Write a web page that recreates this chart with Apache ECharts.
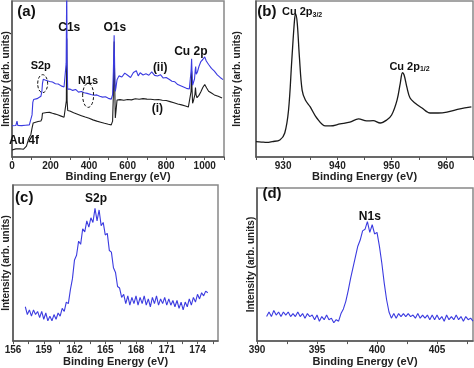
<!DOCTYPE html>
<html><head><meta charset="utf-8">
<script src="https://cdn.jsdelivr.net/npm/echarts@6/dist/echarts.min.js"></script>
<style>html,body{margin:0;padding:0;background:#fff}#c{width:474px;height:368px}</style>
</head><body><div id="c"></div>
<script>
// ---------- DATA ----------
// Panel (a): survey spectra
var surveyE_ii = [0,10,20,26,30,40,50,60,70,80,90,100,104,108,112,120,130,140,150,155,158,162,168,175,185,195,210,225,240,255,270,278,281,284,286,289,300,315,330,345,360,375,390,400,410,425,440,455,470,485,500,515,522,526,530,533,536,540,545,555,570,585,600,615,630,645,655,665,680,695,710,725,740,755,770,785,800,815,830,845,860,875,890,905,920,926,929,932,934,937,942,947,951,953,956,962,970,980,990,1000,1008,1020,1035,1050,1065,1080,1095];
var surveyI_ii = [20.0,20.6,20.2,23.0,20.3,20.8,20.1,20.7,20.4,20.9,20.6,21.5,27,35,36.8,36.2,37.4,37.8,38.9,42,47,49.8,50.3,49.2,49.6,48.4,48.1,47.0,46.8,45.6,44.9,44.3,60,110,60,43.5,43.6,42.7,43.3,41.6,42.0,41.2,40.8,41.8,40.1,39.6,39.8,38.9,38.4,38.6,37.6,37.1,40,55,78,55,42,45,49.5,52,51.3,53.8,52.4,51.0,54.2,55.3,52.0,54.0,52.6,53.3,52.4,54.6,52.3,51.9,52.8,50.6,51.0,49.8,48.6,48.2,46.4,45.6,44.8,44.0,43.6,44.5,55,63,55,46,47.0,50.0,56,58,53,54.5,58,61.2,62.5,64.2,61.5,59.3,56.8,55.0,52.6,51.0,49.6];
var surveyE_i = [0,10,20,30,40,50,60,70,75,80,86,92,98,104,110,120,135,150,155,158,165,180,195,210,225,240,255,270,278,282,284,286,289,300,320,340,360,380,400,420,440,460,480,500,515,522,526,530,533,536,540,545,560,580,600,620,640,660,680,700,720,740,760,780,800,820,840,860,880,900,915,925,929,932,934,937,941,945,949,952,955,960,970,980,990,1000,1010,1020,1035,1050,1070,1090];
var surveyI_i = [4.5,4.8,5.2,4.7,5.3,4.6,5.0,5.5,7.0,8.0,11.5,12.5,14.5,18.5,21.8,22.3,22.8,23.1,24.5,28.0,28.9,28.5,28.6,28.0,27.5,26.9,26.2,25.5,25.0,36,76,36,29.8,29.5,28.3,27.4,26.5,25.6,24.8,23.8,23.0,22.3,21.6,21.0,20.6,23,40,74,45,25.0,30,36.5,36.8,36.4,36.9,36.6,37.3,37.0,37.4,37.1,37.0,36.7,36.9,36.4,36.2,35.5,34.8,34.0,33.4,32.7,32.0,31.4,42,55,44,34.5,35.8,37,40,44.5,40,38.0,39.5,41.8,44.5,46.5,44.2,42.2,41.0,39.8,38.9,37.8];
var surveyTicks = [0,100,200,300,400,500,600,700,800,900,1000,1100];
var surveyLabels = [0,200,400,600,800,1000];

// Panel (b): Cu 2p
var cuE = [925,926,927,928,929.4,930.3,931,931.6,932.1,932.3,932.6,933,933.5,934.1,935,936.2,937.8,938.7,940.5,942.3,943.9,945.4,946.6,947.9,949.1,950,951,951.6,952,952.3,952.8,953.4,954.3,955.6,957.1,958.6,960.2,962.6,964.7];
var cuI = [9.8,9.6,9.4,9.9,10.9,15.4,30.1,62.2,87.8,91.7,85.9,64.1,42.9,36.5,32.1,25,19.9,19.9,21.2,22.4,24.4,23.1,23.3,21.8,23.7,26.9,36.5,47.4,54,52.6,44.9,37.8,34.6,31.4,28.2,28.2,28.8,30.8,32.1];
var cuTicks = [925,930,935,940,945,950,955,960,965];
var cuLabels = [930,940,950,960];

// Panel (c): S 2p
var sE = [157.2,157.4,157.6,157.8,158.0,158.2,158.4,158.6,158.8,159.0,159.2,159.4,159.6,159.8,160.0,160.2,160.4,160.6,160.8,161.0,161.2,161.4,161.6,161.8,162.0,162.2,162.4,162.6,162.8,163.0,163.2,163.4,163.6,163.8,164.0,164.2,164.4,164.6,164.8,165.0,165.2,165.4,165.6,165.8,166.0,166.2,166.4,166.6,166.8,167.0,167.2,167.4,167.6,167.8,168.0,168.2,168.4,168.6,168.8,169.0,169.2,169.4,169.6,169.8,170.0,170.2,170.4,170.6,170.8,171.0,171.2,171.4,171.6,171.8,172.0,172.2,172.4,172.6,172.8,173.0,173.2,173.4,173.6,173.8,174.0,174.2,174.4,174.6,174.8,175.0];
var sI = [22,17,20,16,20,17,19,15,19,14,18,13,16,13,17,14,18,16,21,19,25,24,33,40,52,55,64,62,72,70,77,73,79,76,85,77,84,74,76,68,69,58,57,47,44,35,34,28,30,24,29,23,28,24,29,23,28,24,29,23,27,22,28,24,29,23,27,24,28,23,27,23,26,22,26,21,25,20,25,22,27,23,28,25,30,27,31,29,32,31];
var sTicks = [156,157.5,159,160.5,162,163.5,165,166.5,168,169.5,171,172.5,174,175.5];
var sLabels = [156,159,162,165,168,171,174];

// Panel (d): N 1s
var nE = [390.8,391.0,391.2,391.4,391.6,391.8,392.0,392.2,392.4,392.6,392.8,393.0,393.2,393.4,393.6,393.8,394.0,394.2,394.4,394.6,394.8,395.0,395.2,395.4,395.6,395.8,396.0,396.2,396.4,396.6,396.8,397.0,397.2,397.4,397.6,397.8,398.0,398.2,398.4,398.6,398.8,399.0,399.2,399.4,399.6,399.8,400.0,400.2,400.4,400.6,400.8,401.0,401.2,401.4,401.6,401.8,402.0,402.2,402.4,402.6,402.8,403.0,403.2,403.4,403.6,403.8,404.0,404.2,404.4,404.6,404.8,405.0,405.2,405.4,405.6,405.8,406.0,406.2,406.4,406.6,406.8,407.0,407.2,407.4,407.6,407.8,408.0];
var nI = [16,19,16,20,17,19,16,19,17,19,16,18,16,19,16,18,15,18,16,17,14,17,13,16,14,17,14,15,12,14,13,18,21,26,33,41,48,55,62,66,72,73,78,71,76,70,71,62,51,38,27,19,15,18,15,18,16,18,16,18,16,17,15,18,15,17,15,17,14,17,14,17,14,16,13,17,14,16,14,17,14,16,13,16,14,15,13];
var nTicks = [390,392.5,395,397.5,400,402.5,405,407.5];
var nLabels = [390,395,400,405];

// ---------- CHART ----------
function zip(a, b) { return a.map(function (v, i) { return [v, b[i]]; }); }
var FONT = '"Liberation Sans", Arial, sans-serif';
var AX = '#555';
var BLUE = '#3b3be0';

function xAx(idx, min, max, ticks, labels) {
  return {
    type: 'value', gridIndex: idx, min: min, max: max,
    axisLine: { show: true, lineStyle: { color: AX, width: 1.5 } },
    axisTick: { show: true, length: 3, customValues: ticks, lineStyle: { color: AX } },
    axisLabel: { customValues: labels, formatter: function (v) { return String(v); },
      fontFamily: FONT, fontWeight: 'bold', fontSize: 10, color: '#222', margin: 4 },
    splitLine: { show: false },
    name: 'Binding Energy (eV)', nameLocation: 'middle', nameGap: 14,
    nameTextStyle: { fontFamily: FONT, fontWeight: 'bold', fontSize: 11, color: '#222' }
  };
}
function yAx(idx, gap) {
  return {
    type: 'value', gridIndex: idx, min: 0, max: 100,
    axisLine: { show: true, lineStyle: { color: AX, width: 1.5 } },
    axisTick: { show: false }, axisLabel: { show: false }, splitLine: { show: false },
    name: 'Intensity (arb. units)', nameLocation: 'middle', nameGap: gap,
    nameTextStyle: { fontFamily: FONT, fontWeight: 'bold', fontSize: 10, color: '#222' }
  };
}
function gridBox(l, t, w, h) {
  return { left: l, top: t, width: w, height: h, show: true, borderColor: '#888', borderWidth: 1.5, backgroundColor: 'transparent' };
}
function line(idx, data, color, w) {
  return { type: 'line', xAxisIndex: idx, yAxisIndex: idx, data: data, showSymbol: false, symbol: 'none',
    lineStyle: { color: color, width: w }, animation: false, clip: true };
}

var chart = echarts.init(document.getElementById('c'), null, { renderer: 'canvas' });
chart.setOption({
  animation: false,
  backgroundColor: '#fff',
  grid: [gridBox(11, 1, 213, 156), gridBox(256, 1, 217, 156), gridBox(11, 185, 207, 159), gridBox(257, 188, 216, 156)],
  xAxis: [
    xAx(0, 0, 1100, surveyTicks, surveyLabels),
    xAx(1, 925, 965, cuTicks, cuLabels),
    Object.assign(xAx(2, 156, 176, sTicks, sLabels), { nameGap: 13 }),
    Object.assign(xAx(3, 390, 408, nTicks, nLabels), { nameGap: 13 })
  ],
  yAxis: [yAx(0, 1), yAx(1, 14), yAx(2, 2), yAx(3, 1)],
  series: [
    line(0, zip(surveyE_i, surveyI_i), '#1e1e1e', 1.1),
    line(0, zip(surveyE_ii, surveyI_ii), BLUE, 1.1),
    Object.assign(line(1, zip(cuE, cuI), '#1a1a1a', 1.3), { smooth: 0.35 }),
    line(2, zip(sE, sI), BLUE, 1.1),
    line(3, zip(nE, nI), BLUE, 1.1)
  ]
});

// ---------- ANNOTATIONS (placed in data coordinates) ----------
function px(g, x, y) { return chart.convertToPixel({ gridIndex: g }, [x, y]); }
function txt(g, x, y, text, size, extra) {
  var p = px(g, x, y);
  var st = { text: text, font: 'bold ' + size + 'px ' + FONT, fill: '#111', align: 'center', verticalAlign: 'middle' };
  if (extra) Object.assign(st, extra);
  return { type: 'text', x: p[0], y: p[1], z: 100, style: st };
}
function ell(g, x, y, rx, ry) {
  var p = px(g, x, y);
  return { type: 'ellipse', z: 100, shape: { cx: p[0], cy: p[1], rx: rx, ry: ry },
    style: { fill: 'none', stroke: '#111', lineWidth: 1, lineDash: [3, 2] } };
}
var subRich = { rich: { s: { fontSize: 7, fontWeight: 'bold', fontFamily: FONT, verticalAlign: 'bottom', padding: [6, 0, 0, 0] } } };
chart.setOption({
  graphic: [
    txt(0, 75, 93, '(a)', 15),
    txt(0, 297, 83, 'C1s', 12),
    txt(0, 533, 83, 'O1s', 12),
    txt(0, 149, 58.5, 'S2p', 11),
    txt(0, 395, 48.5, 'N1s', 11),
    txt(0, 769, 57.5, '(ii)', 12),
    txt(0, 754, 31, '(i)', 12),
    txt(0, 928, 67.5, 'Cu 2p', 12),
    txt(0, 62, 10.5, 'Au 4f', 12),
    ell(0, 159, 47, 5, 9),
    ell(0, 395, 39.5, 5.5, 12),
    txt(1, 927, 93, '(b)', 15),
    txt(1, 933.5, 93, 'Cu 2p{s|3/2}', 11, subRich),
    txt(1, 953.3, 58, 'Cu 2p{s|1/2}', 11, subRich),
    txt(2, 157.1, 91.5, '(c)', 15),
    txt(2, 164.1, 91, 'S2p', 12),
    txt(3, 391.25, 96, '(d)', 15),
    txt(3, 399.4, 81, 'N1s', 12)
  ]
});
</script></body></html>
